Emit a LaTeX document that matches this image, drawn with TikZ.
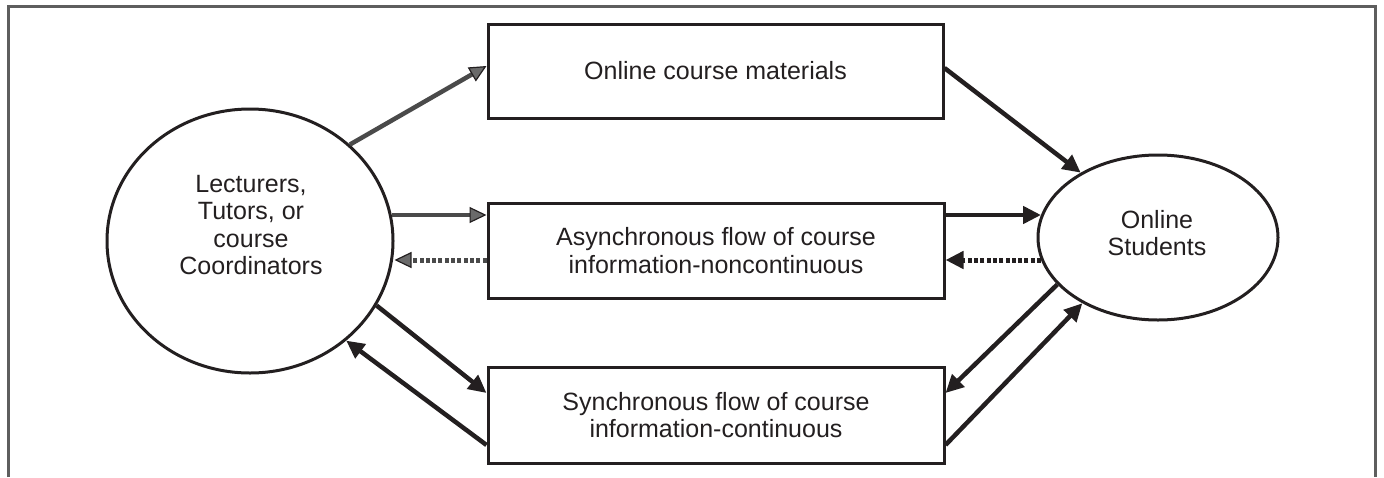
\documentclass[tikz,border=0pt]{standalone}
\usepackage{fontspec}
\setmainfont{Liberation Sans}
\usetikzlibrary{arrows.meta,shapes.geometric,calc}
\definecolor{ink}{HTML}{231F20}
\definecolor{framec}{HTML}{5E5E5E}
\definecolor{garr}{HTML}{4A4A4A}
\definecolor{ghead}{HTML}{6A6A6A}
\begin{document}
\begin{tikzpicture}[x=1pt,y=-1pt,
  font=\fontsize{25}{27.5}\selectfont, text=ink,
  boxnode/.style={draw=ink, line width=3pt, rectangle, minimum width=456pt, minimum height=95pt, align=center, inner sep=0pt},
  ellnode/.style={draw=ink, line width=3pt, ellipse, inner sep=0pt},
  txt/.style={align=center, inner sep=0pt},
  blackarr/.style={draw=ink, line width=4.5pt, -{Triangle[length=18pt,width=17pt]}},
  grayarr/.style={draw=garr, line width=4.5pt, -{Triangle[length=17pt,width=16pt,fill=ghead,color=ink,line width=1.2pt]}},
  graydash/.style={grayarr, dash pattern=on 4pt off 2.3pt, line width=5pt},
  blackdash/.style={blackarr, dash pattern=on 4pt off 2.3pt, line width=5pt},
]
\useasboundingbox (0,0) rectangle (1384,477);
\draw[framec, line width=3pt] (8.5,477) -- (8.5,6.5) -- (1375,6.5) -- (1375,477);

\node[ellnode, minimum width=286pt, minimum height=264pt] (lec) at (250,241) {};
\node[txt] (lectxt) at (251,225) {Lecturers,\\Tutors, or\\course\\Coordinators};
\node[ellnode, minimum width=240pt, minimum height=165pt] (stu) at (1158,237.5) {};
\node[txt] (stutxt) at (1157,233) {Online\\Students};
\node[boxnode, minimum width=455pt, minimum height=94pt] (mat) at (715.5,71) {Online course materials};
\node[boxnode] (mid) at (716,250.5) {Asynchronous flow of course\\information-noncontinuous};
\node[boxnode, minimum height=96pt] (bot) at (716,415) {Synchronous flow of course\\information-continuous};

\coordinate (m2) at ($(mid.west)+(0,-35.5)$);
\coordinate (m3) at ($(mid.west)+(0,9.5)$);
\coordinate (m4) at ($(mid.east)+(0,-35.5)$);
\coordinate (m5) at ($(mid.east)+(0,9.5)$);

\draw[grayarr] (lec.44) -- ($(mat.west)+(0,-5)$);
\draw[grayarr] (m2 -| lec.10) -- (m2);
\draw[graydash] (m3) -- (m3 -| lec.east);
\draw[blackarr] (m4) -- (m4 -| stu.169.5);
\draw[blackdash] (m5 -| stu.191) -- (m5);
\draw[blackarr] ($(mat.east)+(0,-3)$) -- (stu.140);
\draw[blackarr] (lec.-27.5) -- ($(bot.west)+(0,-22)$);
\draw[blackarr] ($(bot.west)+(0,30)$) -- (lec.-46);
\draw[blackarr] (stu.205.9) -- ($(bot.east)+(0,-22)$);
\draw[blackarr] ($(bot.east)+(0,30)$) -- (stu.221.6);
\end{tikzpicture}
\end{document}
